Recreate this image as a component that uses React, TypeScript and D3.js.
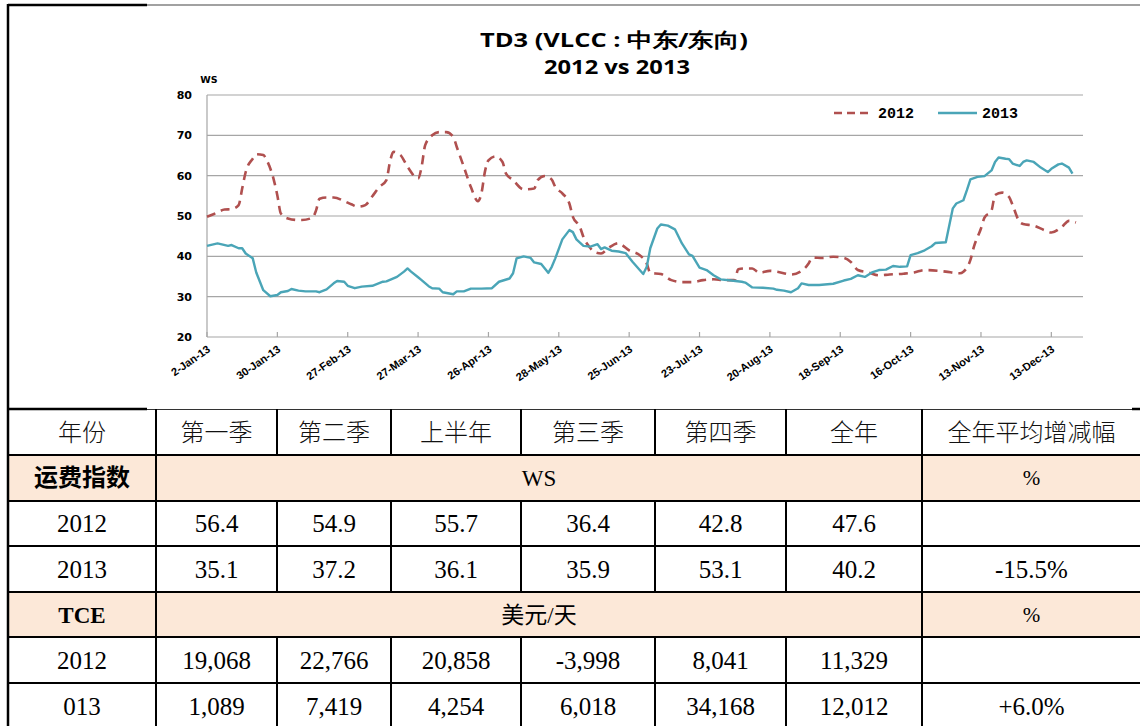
import React from 'react';
import * as d3 from 'd3';

// ---------- chart data ----------
const yTicks = [20, 30, 40, 50, 60, 70, 80];
const xTickLabels = ['2-Jan-13', '30-Jan-13', '27-Feb-13', '27-Mar-13', '26-Apr-13', '28-May-13', '25-Jun-13', '23-Jul-13', '20-Aug-13', '18-Sep-13', '16-Oct-13', '13-Nov-13', '13-Dec-13'];
const tickEveryDays = 20;
const totalDays = 249;

// [trading day index, WS]
const ws2012: [number, number][] = [
  [0, 49.8], [2, 50.5], [5, 51.6], [7, 51.7], [9, 52.7], [10, 56.8], [11, 60.9], [13, 64.2], [14, 65.3], [16, 65.1], [17, 63.8], [19, 58.9], [20, 55.1], [21, 50.6], [23, 49.4], [26, 49.0], [27, 49.0], [30, 49.6], [31, 51.4], [32, 54.3], [34, 54.6], [36, 54.6], [39, 53.7], [41, 52.9], [43, 52.3], [45, 52.7], [47, 54.9], [49, 57.2], [51, 58.9], [52, 63.4], [53, 65.9], [55, 65.1], [57, 62.2], [60, 59.3], [61, 62.2], [62, 67.5], [64, 70.0], [66, 70.8], [68, 70.8], [70, 69.6], [71, 67.1], [73, 62.2], [75, 57.2], [77, 53.7], [78, 55.6], [79, 61.0], [80, 63.8], [82, 64.8], [84, 63.4], [85, 60.5], [87, 58.9], [90, 56.6], [93, 56.8], [94, 58.9], [96, 59.9], [98, 59.0], [99, 57.2], [101, 55.6], [103, 53.1], [104, 49.8], [106, 47.3], [107, 44.8], [109, 42.0], [110, 41.1], [112, 40.7], [114, 42.0], [117, 43.3], [118, 42.8], [120, 41.5], [123, 40.3], [125, 38.2], [126, 35.9], [129, 35.6], [132, 34.1], [135, 33.6], [138, 33.6], [141, 34.1], [144, 34.3], [147, 34.1], [150, 34.1], [151, 36.8], [153, 37.0], [155, 37.0], [157, 35.9], [160, 36.4], [162, 36.2], [166, 35.5], [169, 36.4], [171, 38.2], [172, 39.7], [175, 39.6], [178, 39.9], [181, 39.6], [183, 38.6], [185, 36.6], [188, 36.0], [191, 35.3], [194, 35.5], [198, 35.7], [201, 36.0], [204, 36.6], [208, 36.4], [210, 36.2], [214, 35.8], [215, 36.2], [217, 39.1], [218, 42.4], [220, 46.9], [221, 49.6], [223, 51.4], [224, 55.2], [226, 55.8], [228, 54.7], [229, 52.7], [231, 48.5], [232, 48.0], [235, 47.6], [238, 46.5], [240, 45.9], [243, 47.3], [245, 48.8], [247, 48.4]
];

const ws2013: [number, number][] = [
  [0, 42.6], [3, 43.2], [6, 42.6], [7, 42.8], [9, 42.0], [10, 42.0], [11, 40.7], [13, 39.5], [14, 36.0], [16, 31.6], [18, 30.1], [20, 30.4], [21, 31.1], [23, 31.4], [24, 31.9], [26, 31.5], [28, 31.3], [31, 31.3], [32, 31.1], [34, 31.8], [36, 33.3], [37, 33.9], [39, 33.7], [40, 32.7], [42, 32.1], [44, 32.5], [47, 32.7], [50, 33.7], [51, 33.8], [54, 34.9], [56, 36.2], [57, 37.0], [58, 36.2], [60, 34.8], [61, 34.1], [63, 32.6], [64, 32.1], [66, 32.0], [67, 31.1], [70, 30.6], [71, 31.3], [73, 31.3], [75, 32.0], [78, 32.0], [81, 32.1], [83, 33.7], [86, 34.5], [87, 35.8], [88, 39.5], [90, 40.0], [92, 39.6], [93, 38.5], [95, 38.1], [97, 35.9], [98, 37.4], [99, 39.5], [101, 44.2], [103, 46.5], [104, 46.0], [105, 44.2], [107, 42.6], [109, 42.4], [111, 43.0], [112, 41.8], [113, 42.2], [115, 41.4], [117, 41.2], [119, 40.8], [121, 38.6], [123, 36.6], [124, 35.6], [125, 37.4], [126, 42.0], [128, 46.9], [129, 47.9], [131, 47.6], [133, 46.7], [135, 43.2], [137, 40.5], [138, 40.1], [140, 37.2], [142, 36.6], [144, 35.3], [146, 34.3], [149, 34.0], [152, 33.7], [153, 33.5], [155, 32.3], [158, 32.2], [161, 32.0], [162, 31.7], [164, 31.5], [166, 31.1], [168, 32.1], [169, 33.3], [171, 32.9], [174, 32.9], [178, 33.2], [181, 34.0], [183, 34.4], [185, 35.3], [187, 34.9], [189, 36.0], [191, 36.6], [193, 36.7], [195, 37.6], [197, 37.4], [199, 37.5], [200, 40.3], [202, 40.8], [204, 41.5], [206, 42.5], [207, 43.3], [210, 43.5], [212, 51.9], [213, 53.1], [215, 53.9], [216, 56.4], [217, 59.1], [219, 59.7], [221, 59.9], [223, 61.3], [224, 63.4], [225, 64.5], [227, 64.2], [228, 64.1], [229, 63.0], [231, 62.4], [232, 63.4], [233, 63.8], [235, 63.4], [237, 62.0], [239, 60.9], [240, 61.7], [242, 62.8], [243, 63.0], [245, 62.0], [246, 60.5]
];

// ---------- table data ----------
const headerRow = ['年份', '第一季', '第二季', '上半年', '第三季', '第四季', '全年', '全年平均增减幅'];
const wsRow2012 = ['2012', '56.4', '54.9', '55.7', '36.4', '42.8', '47.6', ''];
const wsRow2013 = ['2013', '35.1', '37.2', '36.1', '35.9', '53.1', '40.2', '-15.5%'];
const tceRow2012 = ['2012', '19,068', '22,766', '20,858', '-3,998', '8,041', '11,329', ''];
const tceRow2013 = ['013', '1,089', '7,419', '4,254', '6,018', '34,168', '12,012', '+6.0%'];
const sectionWS = ['运费指数', 'WS', '%'];
const sectionTCE = ['TCE', '美元/天', '%'];

const W = 1140;
const H = 726;
const colX = [8, 156, 277, 391, 521, 655, 786, 922, 1141];
const rowY = [409, 455, 501, 546, 592, 637, 683, 729];

const RED = '#B0504F';
const TEAL = '#4AA5B7';
const GRID = '#A6A6A6';
const FILL = '#FCE8D8';

const serif = "'Liberation Serif', 'Times New Roman', 'Noto Sans CJK SC', serif";
const cjk = "'Noto Sans CJK SC', sans-serif";

export default function App() {
  const x = d3.scaleLinear().domain([0, totalDays]).range([207, 1083]);
  const y = d3.scaleLinear().domain([20, 80]).range([337, 95]);

  const line2012 = d3.line<[number, number]>().x(d => x(d[0])).y(d => y(d[1])).curve(d3.curveMonotoneX);
  const line2013 = d3.line<[number, number]>().x(d => x(d[0])).y(d => y(d[1])).curve(d3.curveLinear);

  const xTicks = xTickLabels.map((l, i) => ({ label: l, d: i * tickEveryDays }));

  const cx = (i: number) => (colX[i] + colX[i + 1]) / 2;
  const cy = (r: number) => (rowY[r] + rowY[r + 1]) / 2;

  const dataRow = (cells: string[], r: number) =>
    cells.map((c, i) => (
      <text key={`r${r}c${i}`} x={cx(i)} y={cy(r)} dy="0.35em" textAnchor="middle"
        fontFamily={serif} fontSize={25} fill="#000">{c}</text>
    ));

  const sectionRow = (cells: string[], r: number, firstFont: string, firstSize: number) => (
    <g>
      <rect x={colX[0]} y={rowY[r]} width={W - colX[0]} height={rowY[r + 1] - rowY[r]} fill={FILL} />
      <text x={cx(0)} y={cy(r)} dy="0.35em" textAnchor="middle" fontFamily={firstFont} fontWeight={700} fontSize={firstSize}>{cells[0]}</text>
      <text x={(colX[1] + colX[7]) / 2} y={cy(r)} dy="0.35em" textAnchor="middle" fontFamily={serif} fontSize={23}>{cells[1]}</text>
      <text x={cx(7)} y={cy(r)} dy="0.35em" textAnchor="middle" fontFamily={serif} fontSize={21}>{cells[2]}</text>
    </g>
  );

  return (
    <svg width={W} height={H} style={{ position: 'absolute', left: 0, top: 0, background: '#fff' }}>
      <rect x={0} y={0} width={W} height={H} fill="#fff" />

      {/* ---- chart ---- */}
      <text x={614} y={40} dy="0.35em" textAnchor="middle" fontFamily="'Open Sans', sans-serif" fontWeight={700} fontSize={20}
        textLength={268} lengthAdjust="spacingAndGlyphs">TD3 (VLCC : 中东/东向)</text>
      <text x={617} y={67} dy="0.35em" textAnchor="middle" fontFamily="'Open Sans', sans-serif" fontWeight={700} fontSize={20}
        textLength={146} lengthAdjust="spacingAndGlyphs">2012 vs 2013</text>
      <text x={209} y={80} dy="0.35em" textAnchor="middle" fontFamily="'DejaVu Sans', sans-serif" fontWeight={700} fontSize={9.5}>WS</text>

      {yTicks.map(t => (
        <g key={`y${t}`}>
          <line x1={207} x2={1083} y1={y(t)} y2={y(t)} stroke={GRID} strokeWidth={1.2} />
          <text x={192} y={y(t)} dy="0.35em" textAnchor="end" fontFamily="'DejaVu Sans', sans-serif" fontWeight={700} fontSize={11}>{t}</text>
        </g>
      ))}
      <line x1={207} x2={207} y1={y(80)} y2={y(20)} stroke={GRID} strokeWidth={1.2} />
      {xTicks.map(t => (
        <g key={`x${t.d}`}>
          <line x1={x(t.d)} x2={x(t.d)} y1={y(20) - 5} y2={y(20)} stroke={GRID} strokeWidth={1.2} />
          <text transform={`translate(${x(t.d) + 4},${351}) rotate(-35)`} textAnchor="end"
            fontFamily="'Liberation Sans', Arial, sans-serif" fontWeight={700} fontSize={11}>{t.label}</text>
        </g>
      ))}

      <path d={line2012(ws2012) || ''} fill="none" stroke={RED} strokeWidth={2.6} strokeDasharray="9,6" />
      <path d={line2013(ws2013) || ''} fill="none" stroke={TEAL} strokeWidth={2.4} strokeLinejoin="round" />

      {/* legend */}
      <line x1={834} x2={873} y1={113} y2={113} stroke={RED} strokeWidth={2.4} strokeDasharray="8,5" />
      <text x={878} y={113} dy="0.35em" fontFamily="'Liberation Mono', 'Courier New', monospace" fontWeight={700} fontSize={15}>2012</text>
      <line x1={938} x2={977} y1={113} y2={113} stroke={TEAL} strokeWidth={2.3} />
      <text x={982} y={113} dy="0.35em" fontFamily="'Liberation Mono', 'Courier New', monospace" fontWeight={700} fontSize={15}>2013</text>

      {/* chart frame */}
      <line x1={147} x2={W} y1={5} y2={5} stroke="#444" strokeWidth={1.2} />
      <line x1={8} x2={147} y1={5} y2={5} stroke="#000" strokeWidth={2.5} />

      {/* ---- table ---- */}
      {sectionRow(sectionWS, 1, cjk, 24)}
      {sectionRow(sectionTCE, 4, serif, 23)}

      {headerRow.map((c, i) => (
        <text key={`h${i}`} x={cx(i)} y={cy(0)} dy="0.36em" textAnchor="middle" fontFamily={cjk} fontWeight={300} fontSize={24} fill="#111">{c}</text>
      ))}
      {dataRow(wsRow2012, 2)}
      {dataRow(wsRow2013, 3)}
      {dataRow(tceRow2012, 5)}
      {dataRow(tceRow2013, 6)}

      {/* horizontal borders */}
      {rowY.slice(1).map((yy, i) => (
        <line key={`hl${i}`} x1={colX[0]} x2={W} y1={yy} y2={yy} stroke="#000" strokeWidth={2} />
      ))}
      <line x1={8} x2={147} y1={409} y2={409} stroke="#000" strokeWidth={2.5} />
      <line x1={147} x2={1132} y1={409.5} y2={409.5} stroke="#333" strokeWidth={1.2} />
      <line x1={1132} x2={W} y1={409} y2={409} stroke="#000" strokeWidth={2.5} />

      {/* vertical borders */}
      <line x1={8} x2={8} y1={4} y2={H} stroke="#000" strokeWidth={2.5} />
      {colX.slice(1, 8).map((xx, i) => {
        const full = i === 0 || i === 6;
        return (
          <g key={`vl${i}`}>
            <line x1={xx} x2={xx} y1={rowY[0]} y2={rowY[1]} stroke="#000" strokeWidth={2} />
            <line x1={xx} x2={xx} y1={rowY[2]} y2={rowY[4]} stroke="#000" strokeWidth={2} />
            <line x1={xx} x2={xx} y1={rowY[5]} y2={H} stroke="#000" strokeWidth={2} />
            {full && <line x1={xx} x2={xx} y1={rowY[1]} y2={rowY[2]} stroke="#000" strokeWidth={2} />}
            {full && <line x1={xx} x2={xx} y1={rowY[4]} y2={rowY[5]} stroke="#000" strokeWidth={2} />}
          </g>
        );
      })}
    </svg>
  );
}
